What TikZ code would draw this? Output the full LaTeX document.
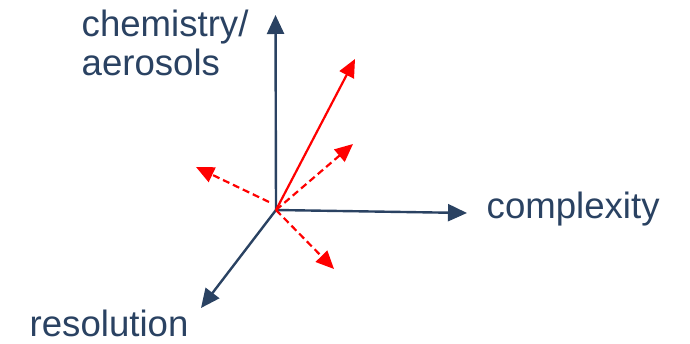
\documentclass[tikz,border=0pt]{standalone}
\usepackage{fontspec}
\setmainfont{Liberation Sans}
\usetikzlibrary{arrows.meta}
\definecolor{axiscol}{HTML}{2A4262}
\definecolor{vectcol}{HTML}{FF0000}

\begin{document}
\begin{tikzpicture}[x=1pt, y=-1pt,
  axis/.style={-{Triangle[length=19pt, width=17pt]}, line width=2.4pt, axiscol},
  vecsolid/.style={-{Triangle[length=18pt, width=16pt]}, line width=2.2pt, vectcol},
  vecdash/.style={vecsolid, dash pattern=on 7pt off 4pt},
  lbl/.style={text=axiscol, font=\fontsize{36.6}{39.5}\selectfont, inner sep=0pt, align=left}]
\useasboundingbox (0,0) rectangle (690,344);
% origin and axis ends
\coordinate (o) at (276,210);
\coordinate (up) at (275.5,15);
\coordinate (rt) at (467,213);
\coordinate (dl) at (201,308);
% red vectors
\coordinate (r1) at (355,59);
\coordinate (r2) at (353,144);
\coordinate (r3) at (196,167);
\coordinate (r4) at (334,269);
\coordinate (s3) at (269,202);
% axes
\draw[axis] (o) -- (up);
\draw[axis] (o) -- (rt);
\draw[axis] (o) -- (dl);
% vectors
\draw[vecsolid] (o) -- (r1);
\draw[vecdash] (o) -- (r2);
\draw[vecdash] (s3) -- (r3);
\draw[vecdash] (o) -- (r4);
% labels
\node[lbl, anchor=base west] (chem) at (81.5,76) {chemistry/\\aerosols};
\node[lbl, anchor=base west] (cplx) at (486.5,218.3) {complexity};
\node[lbl, anchor=base west] (res) at (29.5,336.7) {resolution};
\end{tikzpicture}
\end{document}
